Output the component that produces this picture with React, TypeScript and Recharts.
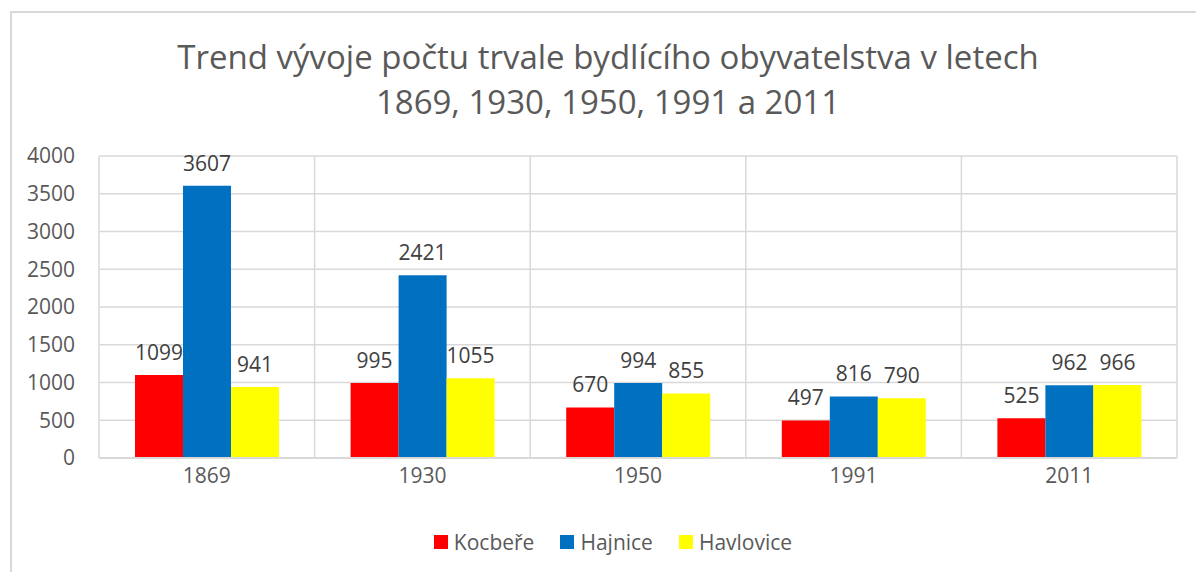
import React from "react";
import { Bar, BarChart, XAxis, YAxis, CartesianGrid, LabelList } from "recharts";

const years = ["1869", "1930", "1950", "1991", "2011"];
const kocbere = [1099, 995, 670, 497, 525];
const hajnice = [3607, 2421, 994, 816, 962];
const havlovice = [941, 1055, 855, 790, 966];
const yTicks = [0, 500, 1000, 1500, 2000, 2500, 3000, 3500, 4000];

const data = years.map((year, i) => ({
  year,
  Kocbeře: kocbere[i],
  Hajnice: hajnice[i],
  Havlovice: havlovice[i],
}));

const series = [
  { key: "Kocbeře", color: "#FF0000" },
  { key: "Hajnice", color: "#0070C0" },
  { key: "Havlovice", color: "#FFFF00" },
];

const font = "'Open Sans', sans-serif";

export default function App() {
  return (
    <div style={{ position: "absolute", left: 0, top: 0, width: 1196, height: 572, background: "#fff", fontFamily: font }}>
      <div
        style={{
          position: "absolute",
          left: 10,
          top: 11,
          right: 0,
          bottom: 0,
          borderLeft: "2px solid #d9d9d9",
          borderTop: "2px solid #d9d9d9",
        }}
      />
      <div
        style={{
          position: "absolute",
          left: 0,
          width: 1216,
          top: 34,
          textAlign: "center",
          color: "#595959",
          fontSize: 33,
          lineHeight: "45px",
        }}
      >
        Trend vývoje počtu trvale bydlícího obyvatelstva v letech
        <br />
        1869, 1930, 1950, 1991 a 2011
      </div>
      <div style={{ position: "absolute", left: 0, top: 0 }}>
        <BarChart
          width={1196}
          height={572}
          data={data}
          margin={{ top: 156, right: 19, bottom: 74, left: 0 }}
          barCategoryGap="16.7%"
          barGap={0}
        >
          <CartesianGrid
            stroke="#d9d9d9"
            strokeWidth={1.5}
            verticalCoordinatesGenerator={({ offset }: any) =>
              years.map((_, i) => offset.left + (i * offset.width) / years.length).concat(offset.left + offset.width)
            }
          />
          <XAxis
            dataKey="year"
            height={40}
            axisLine={{ stroke: "#d9d9d9", strokeWidth: 2 }}
            tickLine={false}
            tick={{ fill: "#595959", fontSize: 21, fontFamily: font }}
            tickMargin={4}
          />
          <YAxis
            width={99}
            domain={[0, 4000]}
            ticks={yTicks}
            axisLine={false}
            tickLine={false}
            tickSize={0}
            tickMargin={24}
            tick={{ fill: "#595959", fontSize: 21, fontFamily: font }}
            interval={0}
          />
          {series.map((s) => (
            <Bar key={s.key} dataKey={s.key} fill={s.color} isAnimationActive={false}>
              <LabelList dataKey={s.key} position="top" offset={15} fill="#404040" fontSize={21} fontFamily={font} />
            </Bar>
          ))}
        </BarChart>
      </div>
      <div
        style={{
          position: "absolute",
          left: 0,
          width: 1226,
          top: 528,
          display: "flex",
          justifyContent: "center",
          alignItems: "center",
          color: "#595959",
          fontSize: 21,
        }}
      >
        {series.map((s) => (
          <div key={s.key} style={{ display: "flex", alignItems: "center", margin: "0 13px" }}>
            <span style={{ width: 14, height: 14, background: s.color, marginRight: 6, display: "inline-block" }} />
            <span>{s.key}</span>
          </div>
        ))}
      </div>
    </div>
  );
}
